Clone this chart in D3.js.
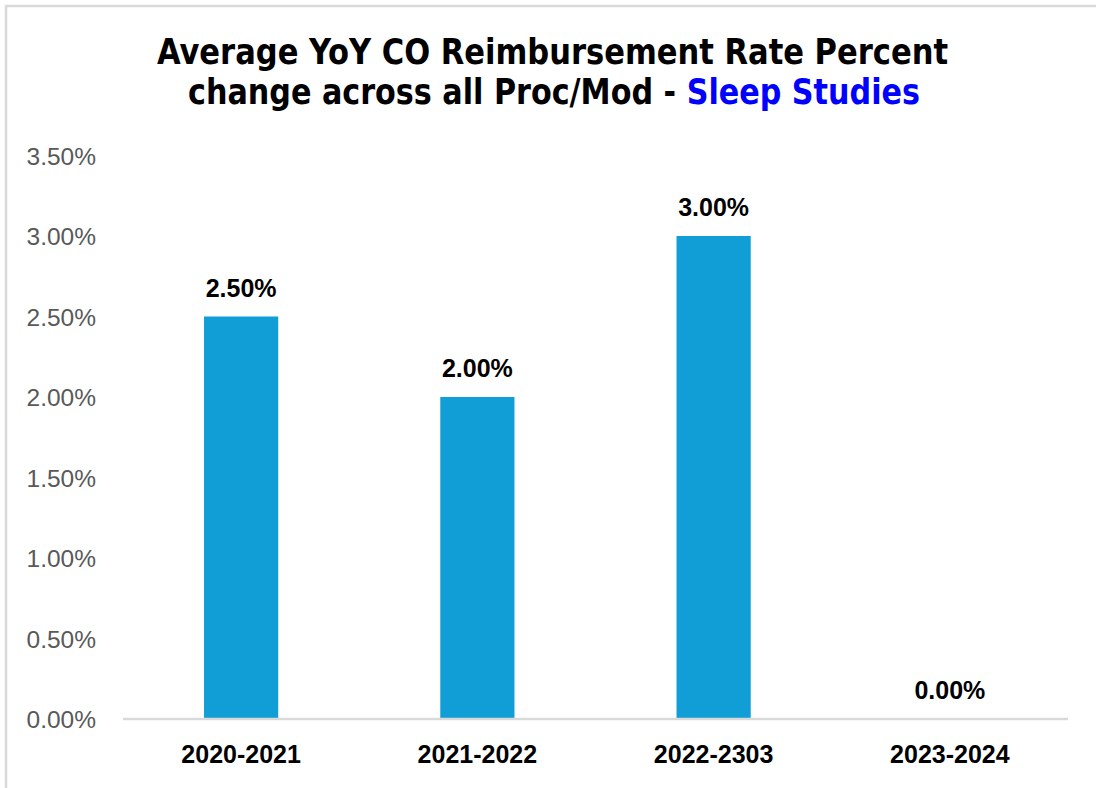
<!DOCTYPE html>
<html><head><meta charset="utf-8">
<script src="https://cdn.jsdelivr.net/npm/d3@7"></script>
<style>body{margin:0;background:#fff;} svg{display:block;}</style>
</head><body>
<svg id="c" width="1096" height="788"></svg>
<script>
const categories = ["2020-2021","2021-2022","2022-2303","2023-2024"];
const values = [0.025, 0.020, 0.030, 0.000];
const yTicks = [0, 0.005, 0.01, 0.015, 0.02, 0.025, 0.03, 0.035];
const titleLine1 = "Average YoY CO Reimbursement Rate Percent";
const titleLine2a = "change across all Proc/Mod - ";
const titleLine2b = "Sleep Studies";

const svg = d3.select("#c");
// frame
svg.append("rect").attr("x",6).attr("y",6).attr("width",1096).attr("height",800)
  .attr("fill","#fff").attr("stroke","#d9d9d9").attr("stroke-width",2.5);

const x0 = 123, x1 = 1068, yBase = 719, yTop = 155.5;
const x = d3.scaleBand().domain(categories).range([x0, x1]).paddingInner(0.686).paddingOuter(0.343);
const y = d3.scaleLinear().domain([0, 0.035]).range([yBase, yTop]);
const fmt = d3.format(".2%");

// y axis labels
const yAxis = d3.axisLeft(y).tickValues(yTicks).tickFormat(fmt).tickSize(0).tickPadding(0);
const gy = svg.append("g").attr("transform",`translate(96,0)`).call(yAxis);
gy.select(".domain").remove();
gy.selectAll("text").attr("font-family","'Liberation Sans', Arial, sans-serif")
  .attr("font-size",24.5).attr("fill","#595959").attr("dy","0.35em");

// bars
svg.append("g").selectAll("rect").data(values).join("rect")
  .attr("x",(d,i)=>x(categories[i])).attr("width",x.bandwidth())
  .attr("y",d=>y(d)).attr("height",d=>y(0)-y(d)).attr("fill","#119dd5");

// x axis
const xAxis = d3.axisBottom(x).tickSize(0).tickPadding(0);
const gx = svg.append("g").attr("transform",`translate(0,${yBase})`).call(xAxis);
gx.select(".domain").attr("stroke","#d9d9d9").attr("stroke-width",2.5)
  .attr("d",`M${x0},0H${x1}`);
gx.selectAll("text").attr("font-family","'Liberation Sans', Arial, sans-serif")
  .attr("font-size",25).attr("font-weight","bold").attr("fill","#000")
  .attr("y",44).attr("dy",0);

// data labels
svg.append("g").selectAll("text").data(values).join("text")
  .attr("x",(d,i)=>x(categories[i])+x.bandwidth()/2).attr("y",d=>y(d)-20)
  .attr("text-anchor","middle").attr("font-family","'Liberation Sans', Arial, sans-serif")
  .attr("font-size",25).attr("font-weight","bold").attr("fill","#000")
  .text(d=>fmt(d));

// title
const tf = "'DejaVu Sans Condensed', 'DejaVu Sans', sans-serif";
svg.append("text").attr("x",157).attr("y",64).attr("font-family",tf).attr("font-weight","bold")
  .attr("font-size",35).attr("fill","#000").attr("textLength",791).attr("lengthAdjust","spacingAndGlyphs")
  .text(titleLine1);
const t2 = svg.append("text").attr("x",188).attr("y",104).attr("font-family",tf).attr("font-weight","bold")
  .attr("font-size",35).attr("textLength",732).attr("lengthAdjust","spacingAndGlyphs");
t2.append("tspan").attr("fill","#000").text(titleLine2a);
t2.append("tspan").attr("fill","#0000ff").text(titleLine2b);
</script>
</body></html>
